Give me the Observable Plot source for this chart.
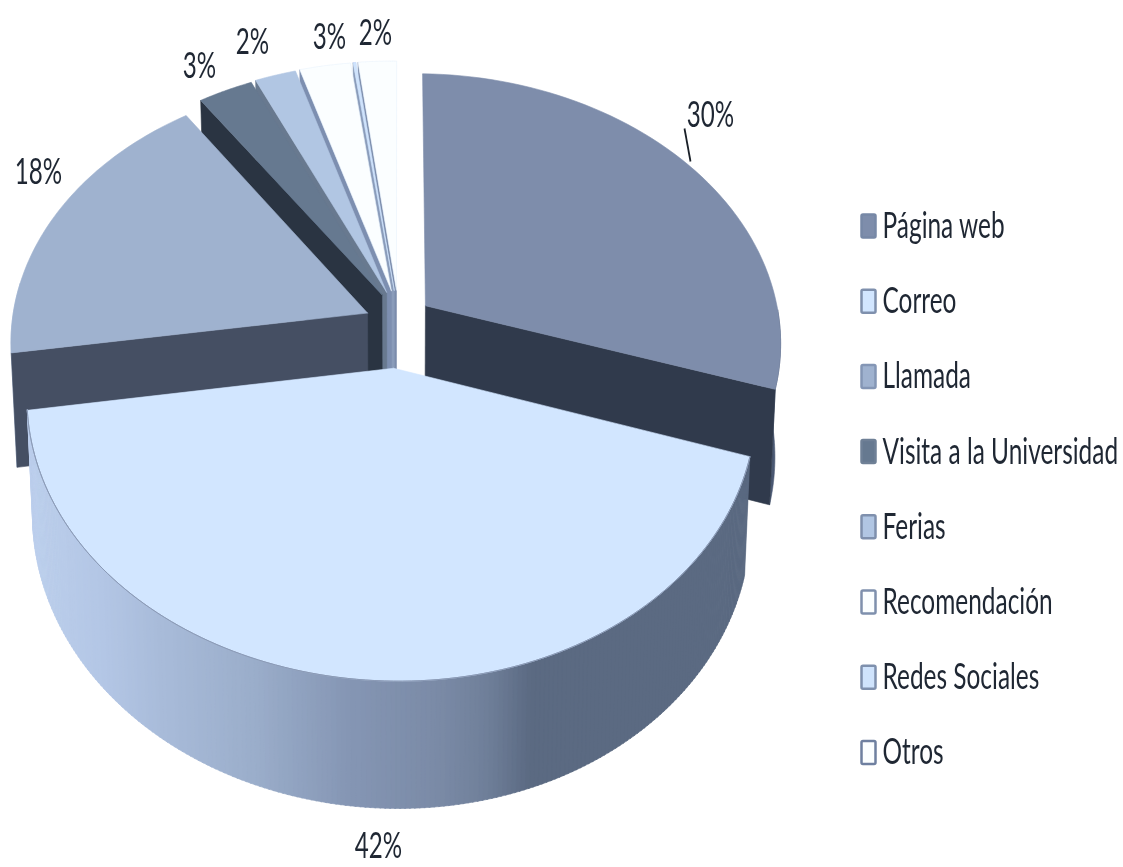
<!DOCTYPE html>
<html><head><meta charset="utf-8">
<script src="https://cdn.jsdelivr.net/npm/d3@7"></script>
<script src="https://cdn.jsdelivr.net/npm/@observablehq/plot@0.6"></script>
<style>html,body{margin:0;padding:0;background:#fff}svg{display:block;filter:blur(0.45px)}</style>
</head><body><div id="chart"></div>
<script>
const categories = ["Página web","Correo","Llamada","Visita a la Universidad","Ferias","Recomendación","Redes Sociales","Otros"];
const values = [29.5,42.2,17.8,2.8,2.1,2.6,0.15,1.95];
const valueLabels = ["30%","42%","18%","3%","2%","3%","","2%"];
const topColors = ["#7e8dab","#d2e6ff","#9fb2cf","#667990","#b1c6e3","#fbfeff","#cfe3fc","#fbfeff"];
const wallColors = ["#303a4c","#5e6d85","#454f63","#2a3442","#68798f","#7d8fb0","#8a9cba","#7b8cab"];
const swatchEdges = ["#7788a6","#7f90ad","#8496b5","#6f8096","#7f90ad","#7f90ad","#7f90ad","#6f80a0"];
const gradientStops = ["#bccfec","#b3c6e5","#a8bbd9","#9aadca","#8596b4","#7a8aa6","#6f7f99","#5b6a82","#5b6a82"];

// projection of the tilted disc
const cx=398, cy=328, Rx=356, Ry=265, D=113, k=0.12, ex=0.095, ey=0.148, roll=0.012;
const total=d3.sum(values);
let acc=0;
const slices=values.map((v,i)=>{const a0=acc/total*2*Math.PI;acc+=v;const a1=acc/total*2*Math.PI;return {i,a0,a1,mid:(a0+a1)/2};});
function P(sl,th,r,h){
  const u=r*Math.sin(th)+ex*Math.sin(sl.mid), v=-r*Math.cos(th)-ey*Math.cos(sl.mid);
  const s=1/(1-k*v), sh=1-0.015*h;
  let x=cx+Rx*u*s*sh;
  if(sl.i===1) x = x>cx ? x*0.992+0.6 : 395.4+(x-cx)*1.004;
  return [x, cy+Ry*v*s+D*h*(1+0.11*v)+roll*(x-cx)];
}
const polys=[]; let pid=0;
function addPoly(pts,fill,stroke,sw){
  const id=pid++;
  [...pts,pts[0]].forEach(p=>polys.push({id,x:p[0],y:p[1],fill,stroke:stroke||fill,sw:sw||0.6}));
}
function arc(sl,a0,a1,h,n=60){return d3.range(n+1).map(j=>P(sl,a0+(a1-a0)*j/n,1,h));}
function topPoly(sl,edge){
  addPoly([P(sl,0,0,0),...arc(sl,sl.a0,sl.a1,0)],topColors[sl.i],edge);
}
function radialWall(sl,a){
  addPoly([P(sl,0,0,0),P(sl,a,1,0),P(sl,a,1,1),P(sl,0,0,1)],wallColors[sl.i]);
}
function outerWall(sl,a0,a1,fill){
  addPoly([...arc(sl,a0,a1,0),...arc(sl,a0,a1,1).reverse()],fill);
}
// back slices, painter's order
const s=slices;
outerWall(s[0],Math.PI/2,s[0].a1,"#4a5872");
radialWall(s[0],s[0].a1);
topPoly(s[0],"#7e8dab");
[7,6,5,4,3].forEach(i=>{radialWall(s[i],s[i].a0);topPoly(s[i],i===5||i===7?"#e8f1fb":topColors[i]);});
outerWall(s[2],s[2].a0,1.5*Math.PI+0.1,"#b4c8e4");
radialWall(s[2],s[2].a0);
topPoly(s[2],"#9fb2cf");
// big front slice: wall shaded in strips by horizontal position
const grad=d3.scaleLinear().domain([30,100,160,254,347,440,487,530,750]).range(gradientStops).interpolate(d3.interpolateRgb).clamp(true);
const c=s[1], N=220;
for(let j=0;j<N;j++){
  const t0=c.a0+(c.a1-c.a0)*j/N, t1=c.a0+(c.a1-c.a0)*(j+1.3)/N;
  const col=grad(P(c,(t0+t1)/2,1,0)[0]);
  addPoly([P(c,t0,1,0),P(c,t1,1,0),P(c,t1,1,1),P(c,t0,1,1)],col);
}
topPoly(c,"#d2e6ff");
addPoly(arc(c,c.a0,c.a1,0,120).concat(arc(c,c.a0,c.a1,0,120).reverse()),"none","#8a9ab5",0.9);

// layout of hand-placed labels and the legend
const labelPos=[[710,115],[378,846],[38,172],[199,66],[252,42],[329,37],null,[375,33]];
const labels=valueLabels.map((t,i)=>({t,p:labelPos[i]})).filter(d=>d.t);
const legendY=i=>226+i*75.2;
const legend=categories.map((name,i)=>({name,y:legendY(i),fill:topColors[i],edge:swatchEdges[i]}));

const svg=Plot.plot({
  width:1123,height:867,margin:0,
  style:{background:"#fff"},
  x:{domain:[0,1123],range:[0,1123],axis:null},
  y:{domain:[0,867],range:[0,867],axis:null},
  color:{type:"identity"},
  marks:[
    Plot.line(polys,{x:"x",y:"y",z:"id",fill:"fill",stroke:"stroke",strokeWidth:"sw",curve:"linear"}),
    Plot.link([{x1:684,y1:128,x2:690,y2:161}],{x1:"x1",y1:"y1",x2:"x2",y2:"y2",stroke:"#1a2028",strokeWidth:1.8}),
    Plot.text(labels,{x:d=>d.p[0],y:d=>d.p[1],text:"t",fill:"#1f2733",fontSize:26,fontFamily:"Lato",textAnchor:"middle",className:"stretchA"}),
    Plot.rect(legend,{x1:()=>861.5,x2:()=>875.5,y1:d=>d.y-11.5,y2:d=>d.y+11.5,fill:"fill",stroke:"edge",strokeWidth:2.5,rx:1.5}),
    Plot.text(legend,{x:()=>882,y:"y",text:"name",fill:"#1f2733",fontSize:26,fontFamily:"Lato",textAnchor:"start",className:"stretchB"})
  ]
});
svg.querySelectorAll(".stretchA text, text.stretchA").forEach(t=>{
  t.setAttribute("transform",(t.getAttribute("transform")||"")+" scale(0.93,1.38)");
});
svg.querySelectorAll(".stretchB text, text.stretchB").forEach(t=>{
  t.setAttribute("transform",(t.getAttribute("transform")||"")+" scale(0.94,1.38)");
});
document.getElementById("chart").append(svg);
</script></body></html>
